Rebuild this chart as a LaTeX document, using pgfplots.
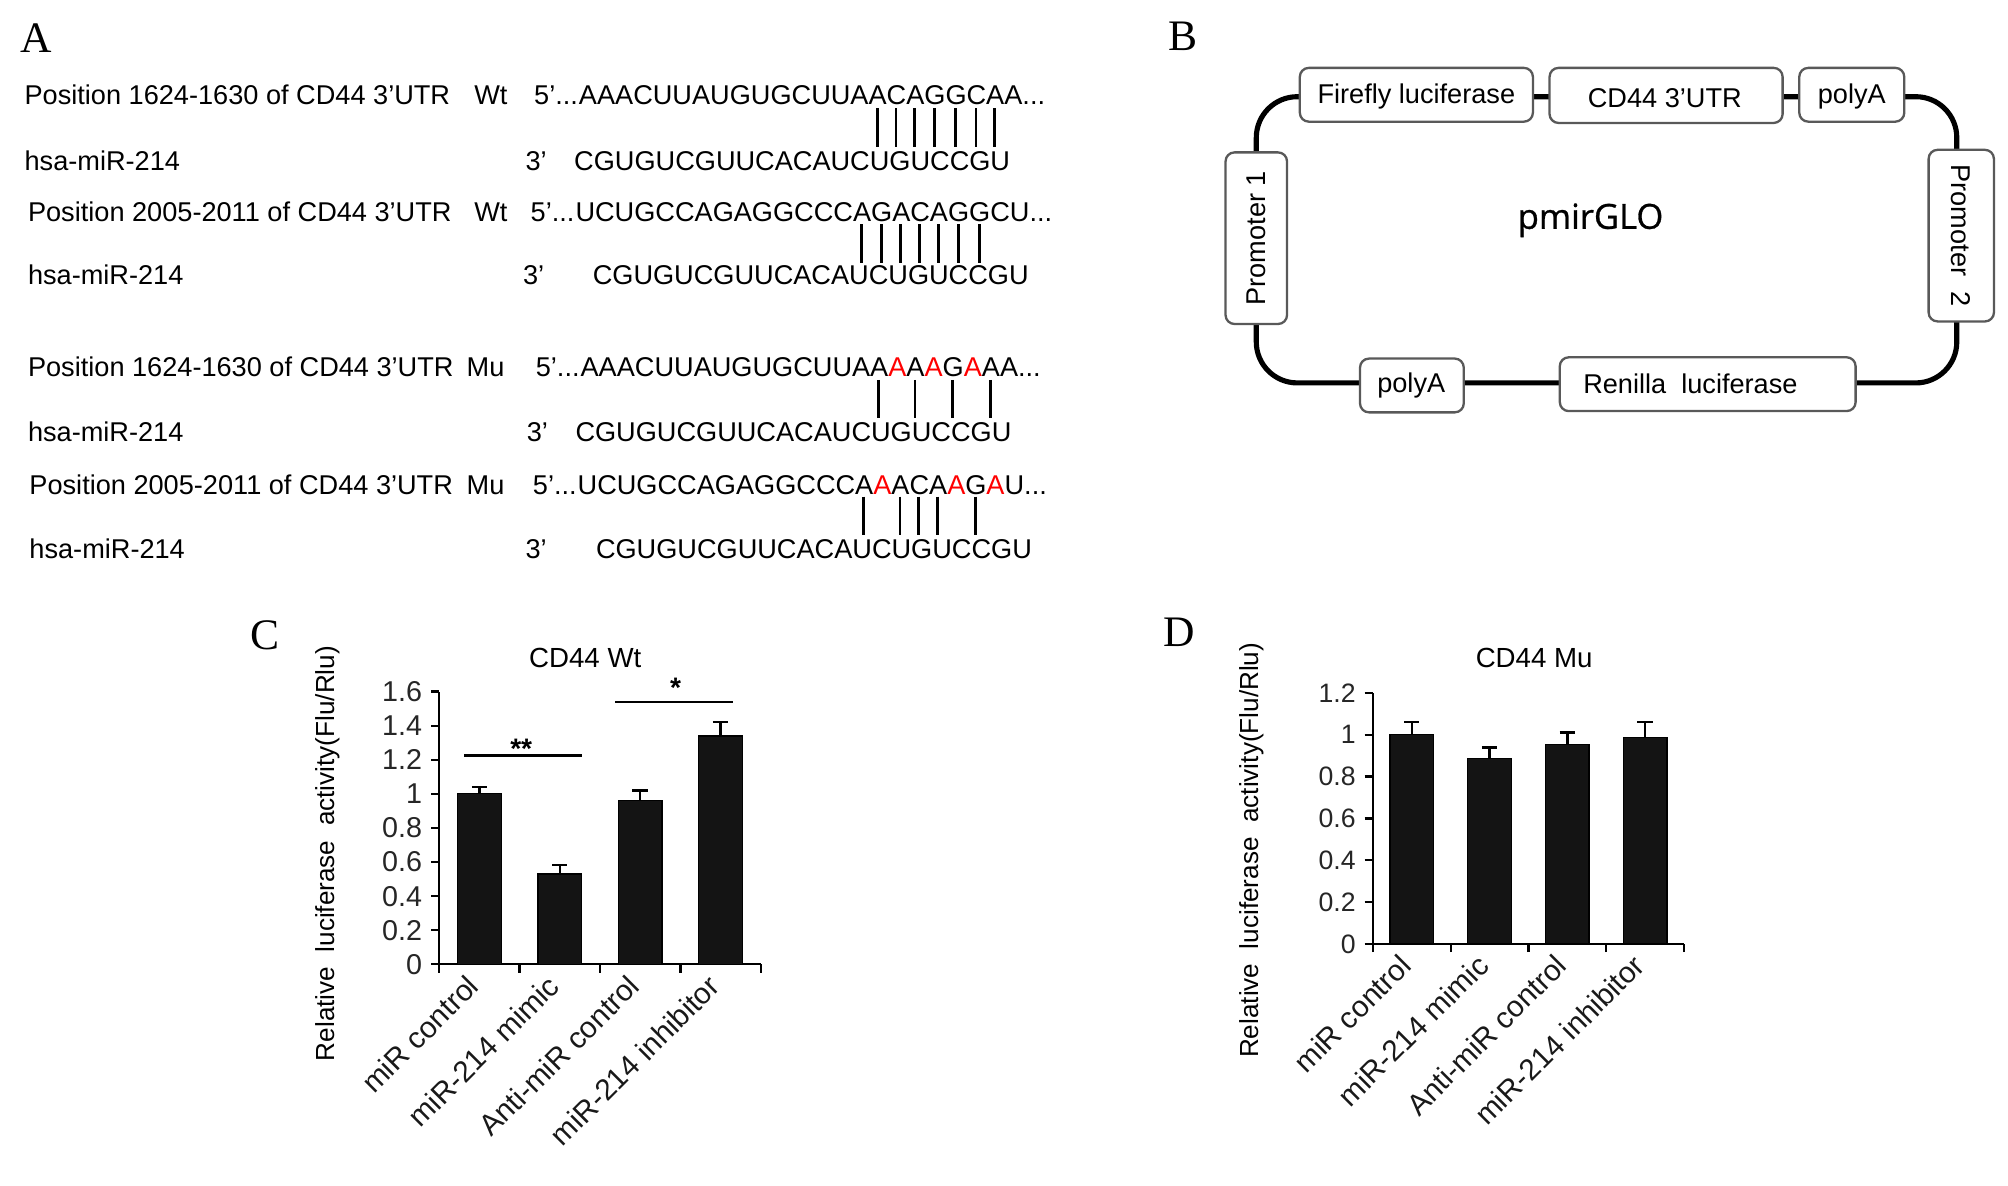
\documentclass[border=0pt]{standalone}
\usepackage{pgfplots}
\pgfplotsset{compat=1.18}
\usepackage{fontspec}
\setmainfont{Liberation Sans}
\newfontfamily\serifL{Liberation Serif}
\newfontfamily\pmfont[FakeBold=0.8]{Open Sans}
\newcommand\seqfont{\fontsize{10.6bp}{12bp}\selectfont}
\newcommand\pl[5]{%
  \path (#1,#4) node[anchor=base west, inner sep=0, outer sep=0, font=\seqfont] (pp) {\phantom{#2}}
        (pp.base east) node[anchor=base west, inner sep=0, outer sep=0, font=\seqfont] (ll) {\phantom{#3}};
  \draw[line width=1.1bp] (ll.center |- 0,#4) -- (ll.center |- 0,#5);}
\newcommand\R[1]{{\color{red}#1}}
\pgfplotsset{
  barpanel/.style={
    scale only axis, clip=false,
    xmin=-0.5, xmax=3.5, ymin=0,
    axis x line*=bottom, axis y line*=left,
    axis line style={line width=0.9bp, black},
    tick align=outside, major tick length=3.2bp,
    tick style={line width=0.9bp, black},
    xtick={-0.5,0.5,1.5,2.5,3.5}, xticklabels={},
    xticklabel shift=4bp,
    extra x ticks={0,1,2,3},
    extra x tick labels={miR control, miR-214 mimic, Anti-miR control, miR-214 inhibitor},
    extra x tick style={major tick length=0pt,
      tick label style={rotate=45, anchor=east, font=\fontsize{11.6bp}{13bp}\selectfont, text=black!90}},
    yticklabel style={text=black!85, /pgf/number format/assume math mode=true},
    ybar, bar width=17bp,
  },
  barplot/.style={fill=black!92, draw=black, line width=0.5bp,
    error bars/.cd, y dir=plus, y explicit,
    error bar style={line width=0.9bp, black},
    error mark options={rotate=90, mark size=3bp, line width=0.9bp, black}},
}
\begin{document}
\begin{tikzpicture}
\begin{scope}[x=0.5bp, y=-0.5bp]
\path[use as bounding box] (0,0) rectangle (1568,926);
% ---------- panel letters
\node[font=\serifL\fontsize{17bp}{20bp}\selectfont] at (28,30) {A};
\node[font=\serifL\fontsize{17bp}{20bp}\selectfont] at (924,28) {B};
\node[font=\serifL\fontsize{17bp}{20bp}\selectfont] at (207,496) {C};
\node[font=\serifL\fontsize{17bp}{20bp}\selectfont] at (921,494) {D};
% ---------- panel A
\begin{scope}[every node/.style={inner sep=0, anchor=base west, font=\seqfont}]
% row 1
\node at (18.8,81.5) {Position 1624-1630 of CD44 3'UTR};
\node at (370,81.5) {Wt};
\node[anchor=base east] at (451.7,81.5) {5'...};
\node at (451.7,81.5) {AAACUUAUGUGCUUAACAGGCAA...};
% row 2
\node at (18.8,133) {hsa-miR-214};
\node at (410,133) {3'};
\node at (448,133) {CGUGUCGUUCACAUCUGUCCGU};
% row 3
\node at (21.5,173) {Position 2005-2011 of CD44 3'UTR};
\node at (370,173) {Wt};
\node[anchor=base east] at (449,173) {5'...};
\node at (449,173) {UCUGCCAGAGGCCCAGACAGGCU...};
% row 4
\node at (21.5,222.5) {hsa-miR-214};
\node at (408,222.5) {3'};
\node at (462.5,222.5) {CGUGUCGUUCACAUCUGUCCGU};
% row 5
\node at (21.5,294) {Position 1624-1630 of CD44 3'UTR};
\node at (364,294) {Mu};
\node[anchor=base east] at (453,294) {5'...};
\node at (453,294) {AAACUUAUGUGCUUAA\R{A}A\R{A}G\R{A}AA...};
% row 6
\node at (21.5,345) {hsa-miR-214};
\node at (411,345) {3'};
\node at (449,345) {CGUGUCGUUCACAUCUGUCCGU};
% row 7
\node at (22.6,386.5) {Position 2005-2011 of CD44 3'UTR};
\node at (364,386.5) {Mu};
\node[anchor=base east] at (450.7,386.5) {5'...};
\node at (450.7,386.5) {UCUGCCAGAGGCCCA\R{A}ACA\R{A}G\R{A}U...};
% row 8
\node at (22.6,436) {hsa-miR-214};
\node at (410,436) {3'};
\node at (465,436) {CGUGUCGUUCACAUCUGUCCGU};
\end{scope}
% pairing lines
\pl{451.7}{AAACUUAUGUGCUUA}{A}{84.5}{115}
\pl{451.7}{AAACUUAUGUGCUUAA}{C}{84.5}{115}
\pl{451.7}{AAACUUAUGUGCUUAAC}{A}{84.5}{115}
\pl{451.7}{AAACUUAUGUGCUUAACA}{G}{84.5}{115}
\pl{451.7}{AAACUUAUGUGCUUAACAG}{G}{84.5}{115}
\pl{451.7}{AAACUUAUGUGCUUAACAGG}{C}{84.5}{115}
\pl{451.7}{AAACUUAUGUGCUUAACAGGC}{A}{84.5}{115}
\pl{449}{UCUGCCAGAGGCCC}{A}{175}{205.5}
\pl{449}{UCUGCCAGAGGCCCA}{G}{175}{205.5}
\pl{449}{UCUGCCAGAGGCCCAG}{A}{175}{205.5}
\pl{449}{UCUGCCAGAGGCCCAGA}{C}{175}{205.5}
\pl{449}{UCUGCCAGAGGCCCAGAC}{A}{175}{205.5}
\pl{449}{UCUGCCAGAGGCCCAGACA}{G}{175}{205.5}
\pl{449}{UCUGCCAGAGGCCCAGACAG}{G}{175}{205.5}
\pl{453}{AAACUUAUGUGCUUA}{A}{296.7}{326.4}
\pl{453}{AAACUUAUGUGCUUAAA}{A}{296.7}{326.4}
\pl{453}{AAACUUAUGUGCUUAAAAA}{G}{296.7}{326.4}
\pl{453}{AAACUUAUGUGCUUAAAAAGA}{A}{296.7}{326.4}
\pl{450.7}{UCUGCCAGAGGCCC}{A}{387.8}{417.8}
\pl{450.7}{UCUGCCAGAGGCCCAA}{A}{387.8}{417.8}
\pl{450.7}{UCUGCCAGAGGCCCAAA}{C}{387.8}{417.8}
\pl{450.7}{UCUGCCAGAGGCCCAAAC}{A}{387.8}{417.8}
\pl{450.7}{UCUGCCAGAGGCCCAAACAA}{G}{387.8}{417.8}
% ---------- panel B
\draw[line width=2bp, rounded corners=16bp] (981,75.5) rectangle (1528,299);
\begin{scope}[every node/.style={font=\fontsize{10.6bp}{12bp}\selectfont}]
\tikzset{bx/.style={draw=black!65, line width=0.9bp, fill=white, rounded corners=3.5bp}}
\draw[bx] (1015,53) rectangle (1197,95);
\node at (1106,75) {Firefly luciferase};
\draw[bx] (1210,53) rectangle (1392,96);
\node at (1300,77) {CD44 3'UTR};
\draw[bx] (1405,53) rectangle (1487,95);
\node at (1446,75) {polyA};
\draw[bx] (957,119) rectangle (1005,253);
\node[rotate=90] at (981,186) {Promoter 1};
\draw[bx] (1506,117) rectangle (1557,251);
\node[rotate=-90] at (1531.5,184) {Promoter\ \ 2};
\draw[bx] (1062,280) rectangle (1143,322);
\node at (1102,301) {polyA};
\draw[bx] (1218,279) rectangle (1449,321);
\node at (1320,300) {Renilla\ \ luciferase};
\node[font=\pmfont\fontsize{13.5bp}{16bp}\selectfont] at (1242,172) {pmirGLO};
\end{scope}
% ---------- titles and y labels of C, D
\node[font=\fontsize{10.8bp}{13bp}\selectfont] at (457,514) {CD44 Wt};
\node[font=\fontsize{10.8bp}{13bp}\selectfont] at (1198,514) {CD44 Mu};
\node[rotate=90, font=\fontsize{10.2bp}{12bp}\selectfont] at (256,666.5) {Relative\ \ luciferase\ \ activity(Flu/Rlu)};
\node[rotate=90, font=\fontsize{10.2bp}{12bp}\selectfont] at (977.5,664) {Relative\ \ luciferase\ \ activity(Flu/Rlu)};
\end{scope}
% ---------- panel C
\begin{axis}[barpanel, at={(171.5bp,-376.5bp)}, anchor=south west,
  width=125.5bp, height=106.5bp, ymax=1.6,
  yticklabel style={font=\fontsize{11.2bp}{13bp}\selectfont},
  ytick={0,0.2,0.4,0.6,0.8,1,1.2,1.4,1.6}]
\addplot[barplot] coordinates {(0,1.00) +- (0,0.042) (1,0.53) +- (0,0.053) (2,0.96) +- (0,0.059) (3,1.34) +- (0,0.08)};
\draw[line width=0.8bp] (axis cs:-0.19,1.225) -- (axis cs:1.28,1.225);
\node[anchor=north, inner sep=0, font=\bfseries\fontsize{11bp}{13bp}\selectfont] at (axis cs:0.52,1.325) {**};
\draw[line width=0.8bp] (axis cs:1.69,1.541) -- (axis cs:3.16,1.541);
\node[anchor=north, inner sep=0, font=\bfseries\fontsize{11bp}{13bp}\selectfont] at (axis cs:2.44,1.68) {*};
\end{axis}
% ---------- panel D
\begin{axis}[barpanel, at={(536bp,-368.5bp)}, anchor=south west,
  width=121.5bp, height=98bp, ymax=1.2,
  yticklabel style={font=\fontsize{10.4bp}{12bp}\selectfont},
  ytick={0,0.2,0.4,0.6,0.8,1,1.2}]
\addplot[barplot] coordinates {(0,1.00) +- (0,0.06) (1,0.885) +- (0,0.053) (2,0.954) +- (0,0.057) (3,0.988) +- (0,0.074)};
\end{axis}
\end{tikzpicture}
\end{document}
